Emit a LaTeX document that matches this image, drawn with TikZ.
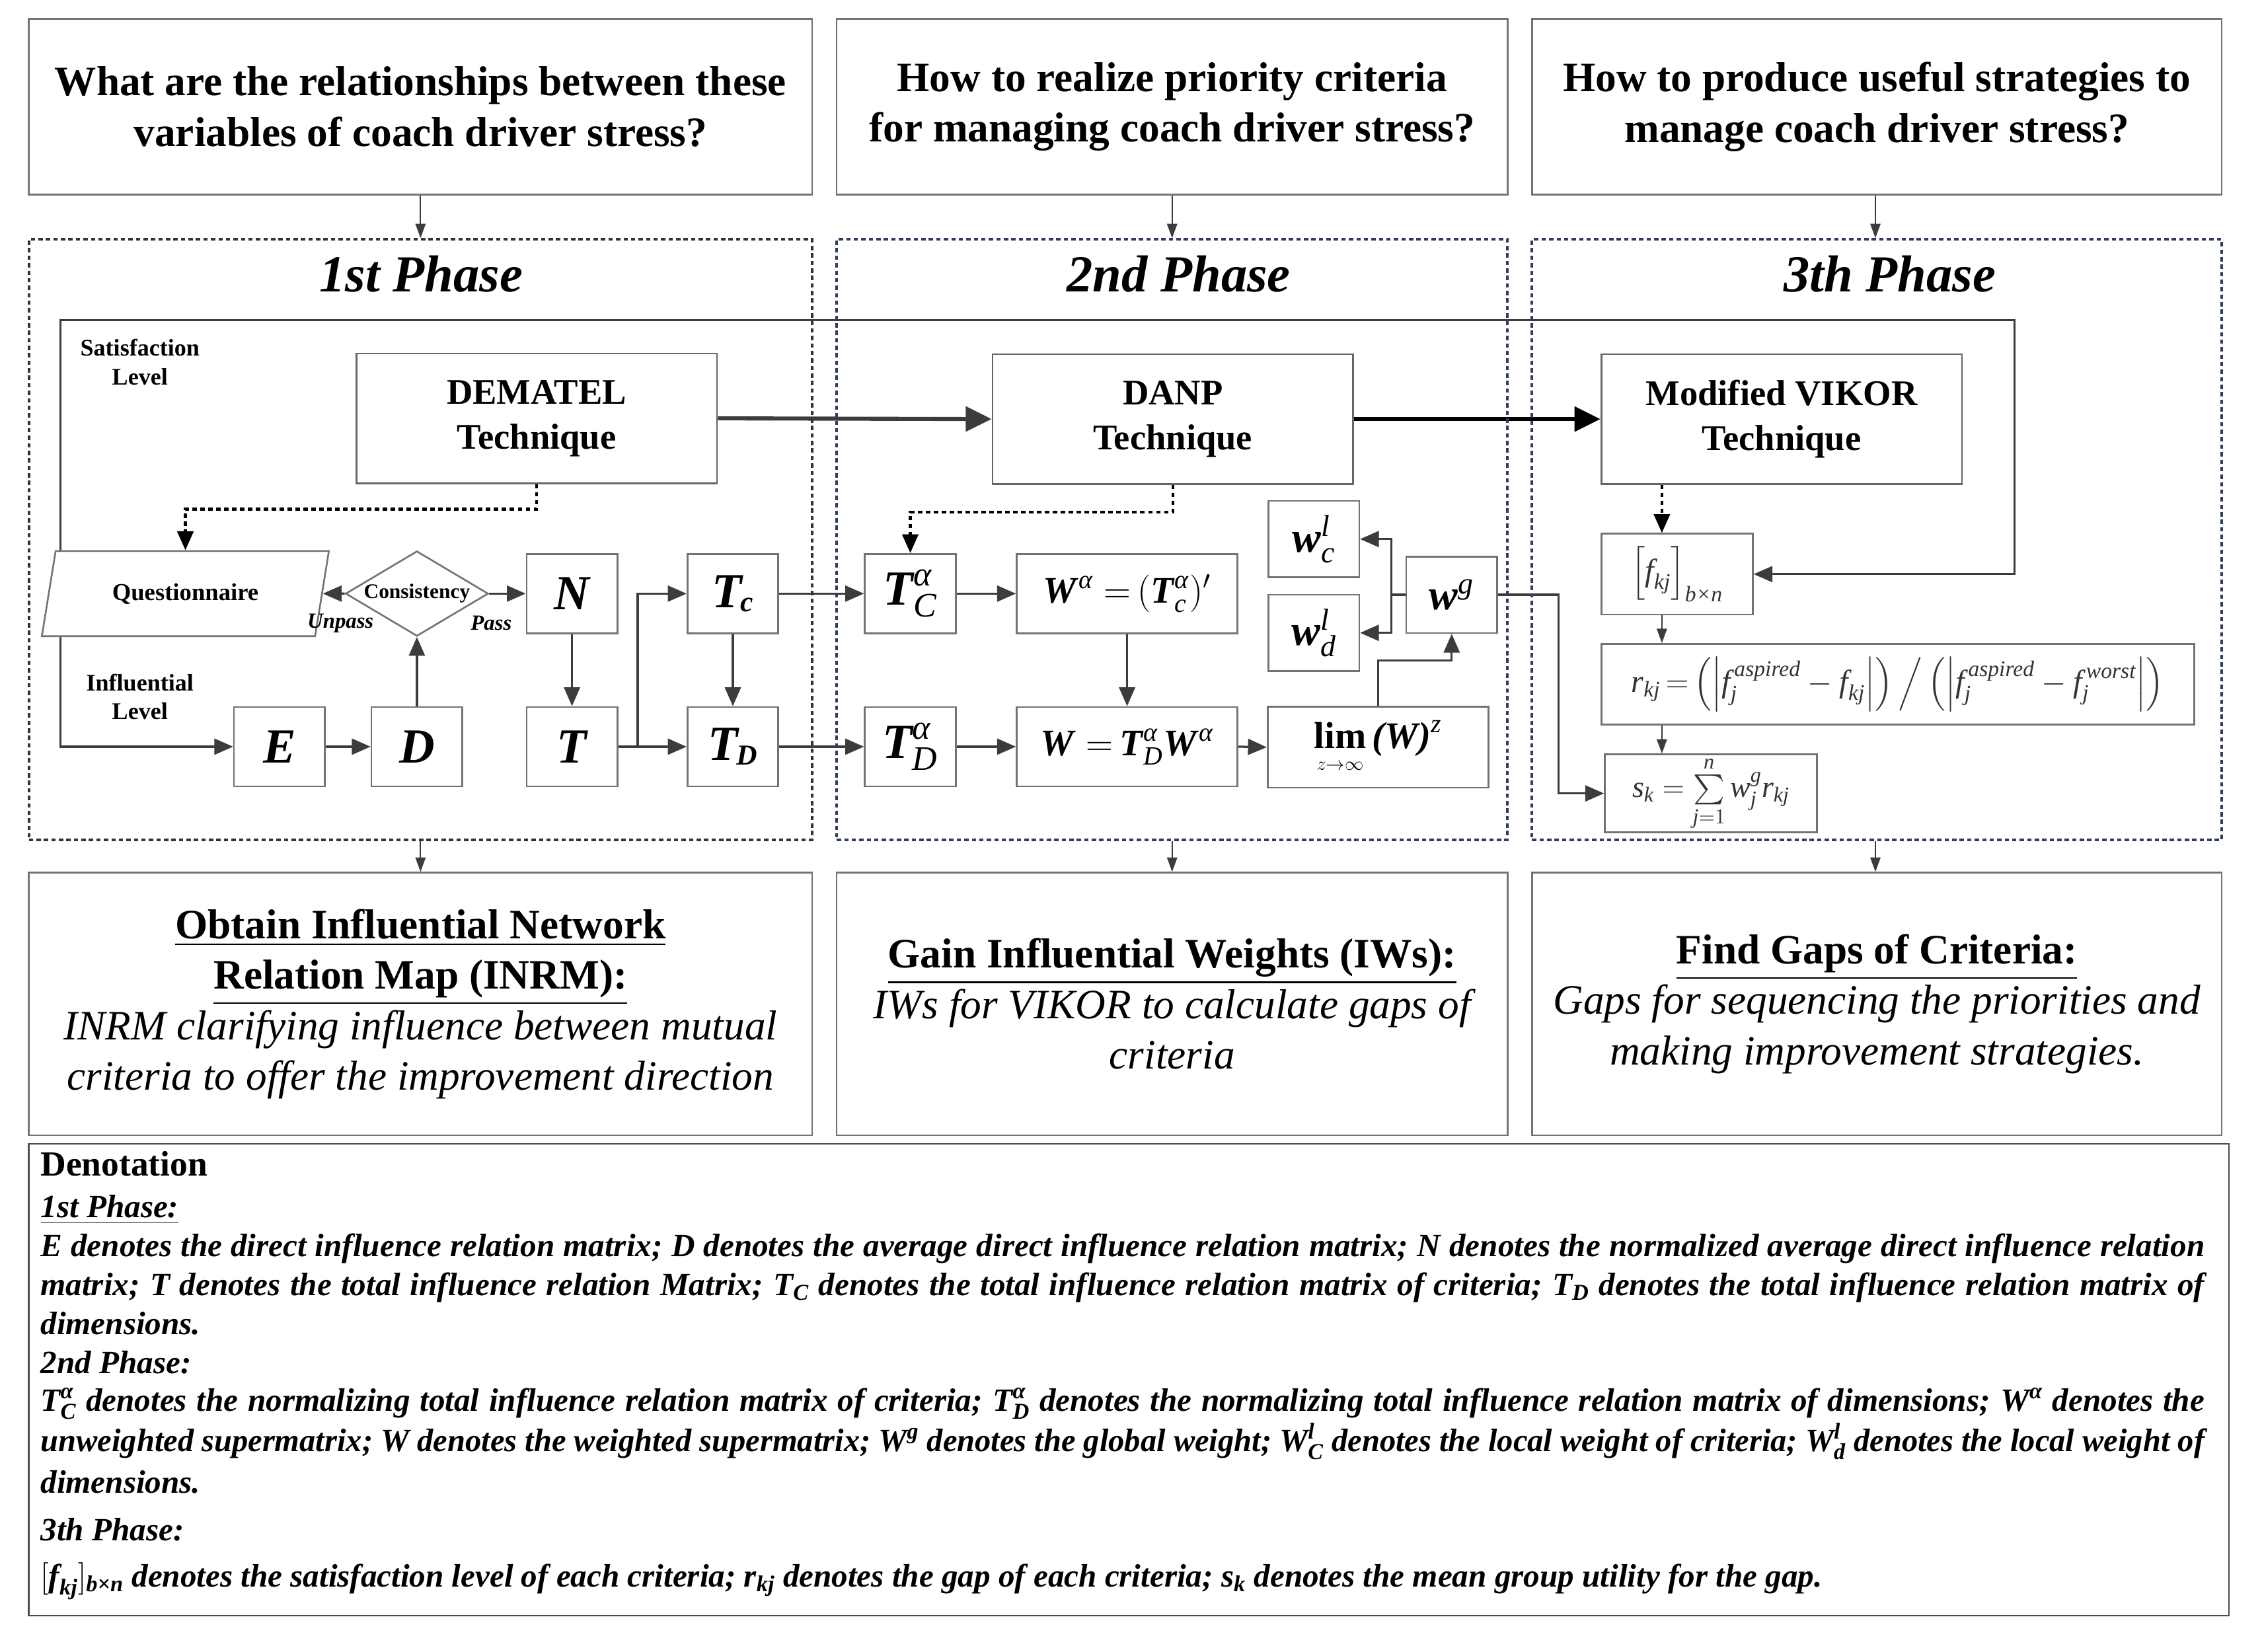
\documentclass[tikz,border=0pt]{standalone}
\usepackage{fix-cm}
\usepackage{amsmath}
\usepackage{graphicx}
\usepackage{fontspec}
\setmainfont{Liberation Serif}
\usetikzlibrary{arrows.meta,shapes.geometric,calc}
\pgfdeclarelayer{background}
\pgfsetlayers{background,main}
\definecolor{navy}{RGB}{45,60,95}
\definecolor{arrgray}{RGB}{60,60,60}
\newcommand\mb[1]{\textbf{\textit{#1}}}
\newcommand\mi[1]{\textit{#1}}
\newcommand\mn[1]{\textmd{\textit{#1}}}
\newcommand\fsz[2]{\fontsize{#1}{#2}\selectfont}
\newsavebox\dlbox
\newcommand\fullline[1]{\sbox\dlbox{#1}\ifdim\wd\dlbox>1500pt\relax\resizebox{1500pt}{\height}{\usebox\dlbox}\else\hbox to 1500pt{#1}\fi}
\begin{document}
\begin{tikzpicture}[x=1pt,y=-1pt,
  qbox/.style={draw=black!55, line width=1.2pt, fill=white, inner sep=0pt, align=center, font=\fsz{29}{35}\bfseries},
  phasebox/.style={draw=#1, line width=1.8pt, dash pattern=on 3pt off 2.2pt, inner sep=0pt},
  ptitle/.style={inner sep=0pt, font=\fsz{36}{40}\bfseries\itshape},
  tech/.style={draw=black!60, line width=1.2pt, fill=white, inner sep=0pt, align=center, minimum width=250pt, minimum height=90pt, font=\fsz{25}{31}\bfseries},
  sbox/.style={draw=black!55, line width=1.2pt, fill=white, inner sep=0pt, minimum width=63pt, minimum height=55pt, font=\fsz{34}{40}\bfseries\itshape},
  fbox/.style={draw=black!55, line width=1.2pt, fill=white, inner sep=0pt},
  lbl/.style={inner sep=0pt, align=center, font=\fsz{16.5}{20}\bfseries},
  smlbl/.style={inner sep=0pt, font=\fsz{15}{18}\bfseries\itshape},
  dtext/.style={inner sep=0pt, anchor=base west, font=\fsz{22.5}{26}\bfseries\itshape},
  arr/.style={draw=arrgray, line width=1.5pt, -{Triangle[length=13pt,width=11pt]}},
  arrboth/.style={draw=arrgray, line width=1.5pt, {Triangle[length=13pt,width=11pt]}-{Triangle[length=13pt,width=11pt]}},
  thinarr/.style={draw=arrgray, line width=1pt, -{Triangle[length=10pt,width=7pt]}},
  bigarr/.style={line width=2.8pt, -{Triangle[length=18pt,width=17pt]}},
  dotarr/.style={draw=black, line width=2pt, dash pattern=on 3pt off 2.5pt, -{Triangle[length=13pt,width=11pt]}}
]
\useasboundingbox (0,0) rectangle (1568,1145);

% ---------- question boxes ----------
\node[qbox, minimum width=543pt, minimum height=122pt] (q1) at (291.5,74) {What are the relationships between these\\variables of coach driver stress?};
\node[qbox, minimum width=465pt, minimum height=122pt] (q2) at (812.5,74) {How to realize priority criteria\\for managing coach driver stress?};
\node[qbox, minimum width=478pt, minimum height=122pt] (q3) at (1301,74) {How to produce useful strategies to\\manage coach driver stress?};

% ---------- phase boxes ----------
\node[phasebox=black!80, minimum width=543pt, minimum height=416pt] (p1) at (291.5,374) {};
\node[phasebox=navy, minimum width=465pt, minimum height=416pt] (p2) at (812.5,374) {};
\node[phasebox=navy, minimum width=478pt, minimum height=416pt] (p3) at (1301,374) {};
\node[ptitle] (t1) at (292,190) {1st Phase};
\node[ptitle] (t2) at (817,190) {2nd Phase};
\node[ptitle] (t3) at (1310,190) {3th Phase};

% ---------- result boxes ----------
\node[qbox, minimum width=543pt, minimum height=182pt] (b1) at (291.5,696) {\underline{Obtain Influential Network}\\\underline{Relation Map (INRM):}\\{\mdseries\itshape INRM clarifying influence between mutual}\\{\mdseries\itshape criteria to offer the improvement direction}};
\node[qbox, minimum width=465pt, minimum height=182pt] (b2) at (812.5,696) {\underline{Gain Influential Weights (IWs):}\\{\mdseries\itshape IWs for VIKOR to calculate gaps of}\\{\mdseries\itshape criteria}};
\node[qbox, minimum width=478pt, minimum height=182pt] (b3) at (1301,696) {\underline{Find Gaps of Criteria:}\\{\mdseries\itshape Gaps for sequencing the priorities and}\\{\mdseries\itshape making improvement strategies.}};

% ---------- phase 1 ----------
\node[lbl] (sat) at (97,251) {Satisfaction\\Level};
\node[lbl] (inf) at (97,483) {Influential\\Level};
\node[tech] (dem) at (372,290) {DEMATEL\\Technique};
\node[fbox, shape=trapezium, trapezium left angle=69.5, trapezium right angle=110.5, trapezium stretches=true, minimum width=199pt, minimum height=59pt, font=\fsz{16.8}{20}\bfseries] (quest) at (128.5,411.5) {Questionnaire};
\node[fbox, shape=diamond, aspect=1.68, minimum width=99pt, minimum height=59pt, font=\fsz{14.4}{17}\bfseries] (cons) at (289,411.5) {Consistency};
\node[smlbl] (unp) at (236,432) {Unpass};
\node[smlbl] (pas) at (340.5,432) {Pass};
\node[sbox] (N) at (396.5,411.5) {N};
\node[sbox] (T) at (396.5,517.6) {T};
\node[sbox] (E) at (193.7,517.6) {E};
\node[sbox] (D) at (289,517.6) {D};
\node[sbox] (Tc) at (508,411.5) {T\kern-1pt\raisebox{-3pt}{\fsz{20}{20}c}};
\node[sbox] (TD) at (508,517.6) {T\kern-1pt\raisebox{-3pt}{\fsz{20}{20}D}};
\coordinate (split) at (442,517.6);

% ---------- phase 2 ----------
\node[tech] (danp) at (813,290.5) {DANP\\Technique};
\node[sbox] (tca) at (631,411.5) {$\mb{T}^{\mn{α}}_{\mn{C}}$};
\node[sbox] (tda) at (631,517.6) {$\mb{T}^{\mn{α}}_{\mn{D}}$};
\node[sbox, minimum width=153pt, font=\fsz{26}{30}\bfseries] (wa) at (781.3,411.5) {$\mb{W}^{\mn{α}}\;{=}\,(\mb{T}^{\mn{α}}_{\mn{c}})'$};
\node[sbox, minimum width=153pt, font=\fsz{26}{30}\bfseries] (wm) at (781.3,517.6) {$\mb{W}\;{=}\,\mb{T}^{\mn{α}}_{\mn{D}}\mb{W}^{\mn{α}}$};
\node[sbox, minimum width=153pt, minimum height=56pt, font=\fsz{26}{30}\bfseries] (lim) at (955.2,518) {$\mathop{\text{\textbf{lim}}}\limits_{\scriptscriptstyle z\to\infty}\mb{(W)}^{\mn{z}}$};
\node[sbox, minimum height=53pt, font=\fsz{30}{34}\bfseries] (wcl) at (910.7,373.7) {$\mb{w}^{\mn{l}}_{\mn{c}}$};
\node[sbox, minimum height=53pt, font=\fsz{30}{34}\bfseries] (wdl) at (910.7,438.7) {$\mb{w}^{\mn{l}}_{\mn{d}}$};
\node[sbox, minimum height=53pt, font=\fsz{30}{34}\bfseries] (wg) at (1006.3,412.3) {$\mb{w}^{\mn{g}}$};
\coordinate (wsplit) at (964.6,412.3);

% ---------- phase 3 ----------
\node[tech] (vik) at (1235,290.5) {Modified VIKOR\\Technique};
\node[fbox, minimum width=105pt, minimum height=56pt, font=\fsz{22}{26}, text=black!80] (fkj) at (1162.5,398) {$\left[\mi{f}_{\mi{kj}}\right]_{\mi{b×n}}$};
\node[fbox, minimum width=411pt, minimum height=56pt, font=\fsz{22}{26}, text=black!80] (rkj) at (1315.5,474.4) {$\mi{r}_{\mi{kj}}\,{=}\left(\left|\mi{f}^{\,\mi{aspired}}_{\mi{j}}-\mi{f}_{\mi{kj}}\right|\right)\Big/\left(\left|\mi{f}^{\,\mi{aspired}}_{\mi{j}}-\mi{f}^{\,\mi{worst}}_{\mi{j}}\right|\right)$};
\node[fbox, minimum width=147pt, minimum height=54pt, font=\fsz{21}{25}, text=black!80] (sk) at (1186,550) {$\displaystyle \mi{s}_{\mi{k}}={\textstyle\sum\limits_{\mi{j}=1}^{\mi{n}}}\,\mi{w}^{\mi{g}}_{\mi{j}}\mi{r}_{\mi{kj}}$};
\coordinate (fbR2) at (1396.5,398);
\coordinate (fbR) at (1396.5,222);
\coordinate (fbL) at (42,222);
\coordinate (fbL2) at (42,517.6);

% ---------- denotation ----------
\node[draw=black!70, line width=1.2pt, minimum width=1525pt, minimum height=327pt, inner sep=0pt] (den) at (782.5,956.5) {};
\node[inner sep=0pt, anchor=base west, font=\fsz{24.5}{28}\bfseries] (dh) at (28,815) {Denotation};
\node[dtext] (d0) at (28,844) {\underline{1st Phase:}};
\node[dtext] (d1) at (28,871) {\fullline{E denotes the direct influence relation matrix; D denotes the average direct influence relation matrix; N denotes the normalized average direct influence relation}};
\node[dtext] (d2) at (28,898) {\fullline{matrix; T denotes the total influence relation Matrix; $\mb{T}_{\mi{C}}$ denotes the total influence relation matrix of criteria; $\mb{T}_{\mi{D}}$ denotes the total influence relation matrix of}};
\node[dtext] (d3) at (28,925) {dimensions.};
\node[dtext] (d4) at (28,952) {2nd Phase:};
\node[dtext] (d5) at (28,978) {\fullline{$\mb{T}^{\mi{α}}_{\mi{C}}$ denotes the normalizing total influence relation matrix of criteria; $\mb{T}^{\mi{α}}_{\mi{D}}$ denotes the normalizing total influence relation matrix of dimensions; $\mb{W}^{\mi{α}}$ denotes the}};
\node[dtext] (d6) at (28,1006) {\fullline{unweighted supermatrix; W denotes the weighted supermatrix; $\mb{W}^{\mi{g}}$ denotes the global weight; $\mb{W}^{\mi{l}}_{\mi{C}}$ denotes the local weight of criteria; $\mb{W}^{\mi{l}}_{\mi{d}}$ denotes the local weight of}};
\node[dtext] (d7) at (28,1035) {dimensions.};
\node[dtext] (d8) at (28,1068) {3th Phase:};
\node[dtext] (d9) at (28,1100) {$[\mb{f}_{\mb{kj}}]_{\mb{b×n}}$ denotes the satisfaction level of each criteria; $\mb{r}_{\mb{kj}}$ denotes the gap of each criteria; $\mb{s}_{\mb{k}}$ denotes the mean group utility for the gap.};

% ---------- connectors ----------
\begin{pgfonlayer}{background}
\fill[white] (0,0) rectangle (1568,1145);
\draw[thinarr] (q1.south) -- (p1.north);
\draw[thinarr] (q2.south) -- (p2.north);
\draw[thinarr] (q3.south -| 1300,0) -- (p3.north -| 1300,0);
\draw[thinarr] (p1.south) -- (b1.north);
\draw[thinarr] (p2.south) -- (b2.north);
\draw[thinarr] (p3.south -| 1300,0) -- (b3.north -| 1300,0);
\draw[arrboth] (fkj.east |- fbR2) -- (fbR2) -- (fbR) -- (fbL) -- (fbL2) -- (E.west);
\draw[bigarr, draw=arrgray] (dem.east) -- (danp.west);
\draw[bigarr, draw=black] (danp.east) -- (vik.west);
\draw[dotarr] (dem.south) -- (dem.south |- 0,353) -| (quest.north);
\draw[dotarr] (danp.south) -- (danp.south |- 0,355) -| (tca.north);
\draw[dotarr] (vik.south -| 1152,0) -- (fkj.north -| 1152,0);
\draw[arr] (cons.west) -- (quest.east);
\draw[arr] (cons.east) -- (N.west);
\draw[arr] (D.north) -- (cons.south);
\draw[arr] (E.east) -- (D.west);
\draw[arr] (N.south) -- (T.north);
\draw[arr] (T.east) -- (TD.west);
\draw[arr] (split) |- (Tc.west);
\draw[arr] (Tc.south) -- (TD.north);
\draw[arr] (Tc.east) -- (tca.west);
\draw[arr] (TD.east) -- (tda.west);
\draw[arr] (tca.east) -- (wa.west);
\draw[arr] (tda.east) -- (wm.west);
\draw[arr] (wa.south) -- (wm.north);
\draw[arr] (wm.east) -- (lim.west);
\draw[arr] (lim.north) -- ++(0,-31.6) -| (wg.south);
\draw[draw=arrgray, line width=1.5pt] (wg.west) -- (wsplit);
\draw[arr] (wsplit) |- (wcl.east);
\draw[arr] (wsplit) |- (wdl.east);
\draw[arr] (wg.east) -- (1080.4,412.3) |- (sk.west);
\draw[thinarr] (fkj.south -| 1152,0) -- (rkj.north -| 1152,0);
\draw[thinarr] (rkj.south -| 1152,0) -- (sk.north -| 1152,0);
\end{pgfonlayer}
\end{tikzpicture}
\end{document}
